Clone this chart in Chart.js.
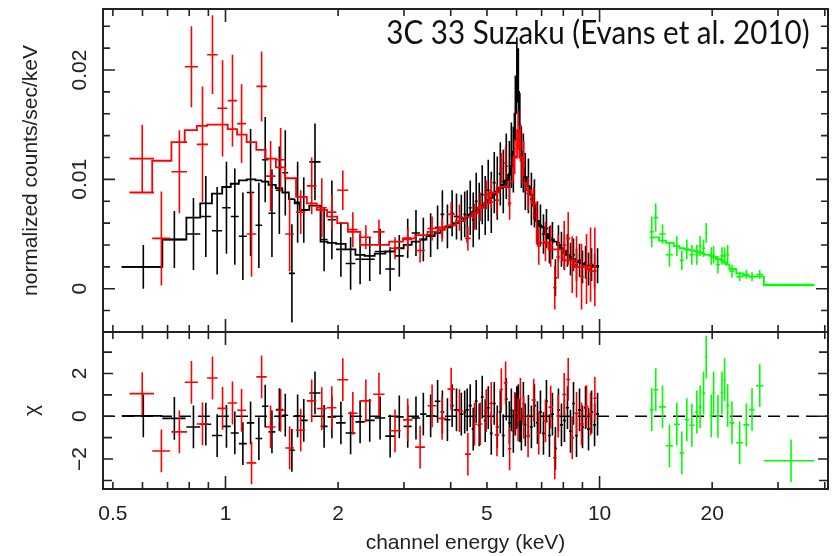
<!DOCTYPE html>
<html>
<head>
<meta charset="utf-8">
<script src="https://cdn.jsdelivr.net/npm/chart.js@4.4.1/dist/chart.umd.min.js"></script>
<style>
  html, body { margin: 0; padding: 0; background: #fff; }
  #wrap { position: relative; width: 832px; height: 556px; overflow: hidden; }
  #topCv { position: absolute; left: 0; top: 0; }
  #botCv { position: absolute; left: 0; top: 324px; }
  #title { position: absolute; right: 22px; top: 14px; font-family: Lato, "Open Sans", sans-serif;
           font-size: 32px; line-height: 36px; color: #111; white-space: nowrap;
           transform: scaleX(0.925); transform-origin: right center; }
</style>
</head>
<body>
<div id="wrap">
  <canvas id="topCv" width="832" height="334"></canvas>
  <canvas id="botCv" width="832" height="232"></canvas>
  <div id="title">3C 33 Suzaku (Evans et al. 2010)</div>
</div>
<script>
/* Suzaku spectrum of 3C 33: XIS-FI (black), XIS-BI (red), HXD-PIN (green) */

var xMin = 0.4705, xMax = 40.8;
var yTopMin = -0.00396, yTopMax = 0.02558;
var chiMin = -3.40, chiMax = 3.94;

var xMajor = [1, 10];
var xMinor = [0.5, 0.6, 0.7, 0.8, 0.9, 2, 3, 4, 5, 6, 7, 8, 9, 20, 30, 40];
var xLabelVals = [0.5, 1, 2, 5, 10, 20];
var xLabelText = ['0.5', '1', '2', '5', '10', '20'];

var yTopMajor = [0, 0.01, 0.02];
var yTopMinor = [-0.002, 0.002, 0.004, 0.006, 0.008, 0.012, 0.014, 0.016, 0.018, 0.022, 0.024];
var yTopText  = ['0', '0.01', '0.02'];

var chiMajor = [-2, 0, 2];
var chiMinor = [-3, -1, 1, 3];
var chiText  = ['\u22122', '0', '2'];

/* XIS-FI (black) */
var fiE = [0.603,0.730,0.821,0.886,0.950,1.006,1.059,1.113,1.167,1.228,1.277,1.331,1.393,1.445,1.505,1.559,1.619,1.735,1.835,1.925,
  2.035,2.160,2.290,2.430,2.590,2.755,2.915,3.070,3.230,3.380,3.535,3.690,3.800,3.920,4.035,4.145,4.270,4.360,
  4.428,4.511,4.595,4.680,4.768,4.857,4.947,5.040,5.135,5.230,5.328,5.428,5.529,5.632,5.739,5.810,5.882,5.955,6.010,6.066,
  6.122,6.180,6.256,6.331,6.454,6.574,6.697,6.823,6.950,7.080,7.212,7.345,7.482,7.621,7.764,7.909,8.057,8.207,8.361,8.517,
  8.677,8.839,9.004,9.172,9.343,9.520,9.697,9.877];
var fiHw = [0.075,0.052,0.035,0.030,0.030,0.026,0.026,0.027,0.027,0.025,0.025,0.028,0.030,0.026,0.028,0.028,0.040,0.060,0.040,0.050,
  0.060,0.065,0.065,0.075,0.085,0.080,0.080,0.075,0.085,0.065,0.090,0.065,0.045,0.075,0.040,0.070,0.055,0.035,
  0.041,0.042,0.042,0.043,0.044,0.044,0.045,0.046,0.047,0.048,0.049,0.050,0.050,0.051,0.045,0.036,0.036,0.032,0.028,0.028,
  0.028,0.033,0.038,0.045,0.060,0.061,0.062,0.063,0.064,0.065,0.066,0.067,0.068,0.070,0.071,0.073,0.074,0.076,0.077,0.079,
  0.080,0.082,0.083,0.085,0.087,0.088,0.089,0.090];
var fiCts = [0.0020,0.0045,0.0050,0.0066,0.0053,0.0074,0.0066,0.0048,0.0088,0.0058,0.0118,0.0069,0.0090,0.0106,0.0014,0.0079,0.0072,0.0116,0.0045,0.0063,
  0.0036,0.0023,0.0027,0.0027,0.0034,0.0018,0.0030,0.0046,0.0051,0.0045,0.0049,0.0056,0.0068,0.0057,0.0069,0.0066,0.0065,0.0068,
  0.0066,0.0074,0.0063,0.0080,0.0071,0.0086,0.0076,0.0090,0.0079,0.0097,0.0092,0.0105,0.0098,0.0112,0.0105,0.0122,0.0118,0.0165,0.0200,0.0190,
  0.0150,0.0120,0.0115,0.0098,0.0094,0.0082,0.0078,0.0060,0.0058,0.0050,0.0055,0.0040,0.0044,0.0010,0.0042,0.0036,0.0033,0.0035,0.0027,0.0031,
  0.0022,0.0026,0.0020,0.0024,0.0018,0.0022,0.0016,0.0021];
var fiErr = [0.0020,0.0026,0.0033,0.0037,0.0040,0.0042,0.0044,0.0040,0.0058,0.0039,0.0039,0.0040,0.0040,0.0039,0.0045,0.0037,0.0030,0.0035,0.0029,0.0036,
  0.0025,0.0024,0.0023,0.0020,0.0021,0.0020,0.0019,0.0018,0.0021,0.0020,0.0020,0.0020,0.0022,0.0020,0.0021,0.0021,0.0021,0.0021,
  0.0024,0.0025,0.0025,0.0026,0.0026,0.0027,0.0027,0.0028,0.0028,0.0028,0.0029,0.0029,0.0029,0.0030,0.0030,0.0030,0.0030,0.0030,0.0030,0.0030,
  0.0029,0.0028,0.0027,0.0026,0.0025,0.0024,0.0022,0.0020,0.0019,0.0018,0.0018,0.0017,0.0017,0.0017,0.0016,0.0016,0.0016,0.0015,0.0015,0.0015,
  0.0015,0.0015,0.0015,0.0015,0.0015,0.0015,0.0016,0.0016];
var fiMod = [0.0020,0.0045,0.0065,0.0078,0.0087,0.0093,0.0096,0.0099,0.0100,0.0099,0.0098,0.0095,0.0092,0.0088,0.0082,0.0078,0.0072,0.0076,0.0043,0.0042,
  0.0041,0.0036,0.0031,0.0030,0.0032,0.0034,0.0037,0.0040,0.0043,0.0045,0.0048,0.0051,0.0054,0.0056,0.0058,0.0060,0.0062,0.0064,
  0.0066,0.0068,0.0070,0.0072,0.0074,0.0076,0.0078,0.0081,0.0083,0.0086,0.0089,0.0092,0.0095,0.0099,0.0104,0.0112,0.0125,0.0160,0.0185,0.0180,
  0.0150,0.0125,0.0110,0.0102,0.0094,0.0086,0.0076,0.0062,0.0057,0.0056,0.0050,0.0046,0.0045,0.0043,0.0040,0.0037,0.0034,0.0031,0.0029,0.0027,
  0.0025,0.0024,0.0023,0.0022,0.0021,0.0021,0.0020,0.0020];
var fiChi = [0.02,-0.10,-0.50,-0.37,-0.90,-0.47,-0.78,-1.28,-0.31,-1.04,0.47,-0.73,0.31,0.05,-1.59,0.02,-0.19,1.09,-0.47,-0.03,
  -0.31,-0.78,-0.26,-0.19,-0.08,-0.93,-0.03,-0.47,-0.08,0.10,0.02,0.70,0.20,-0.16,0.50,0.30,0.10,0.20,
  0.3,0.5,-0.6,0.7,-0.4,0.9,-0.2,0.4,-0.8,0.6,-0.5,0.2,-0.9,0.8,-0.3,0.3,-0.7,0.1,0.4,0.5,
  -0.2,-0.6,0.6,-0.4,0.0,-0.5,0.5,-0.3,0.2,-0.8,0.7,-0.9,0.1,-1.5,0.3,-0.4,-0.2,0.4,-0.7,0.6,
  -0.9,0.3,-0.5,0.4,-0.6,0.2,-0.4,0.1];

/* XIS-BI (red) */
var biE = [0.599,0.674,0.753,0.811,0.868,0.923,0.982,1.044,1.104,1.174,1.249,1.320,1.404,1.484,1.589,1.700,1.809,1.924,2.059,2.190,2.373,2.572,2.839,
  3.070,3.313,3.567,3.794,4.011,4.222,4.446,4.631,4.797,4.977,5.135,5.318,5.462,5.609,5.749,5.930,6.056,6.143,6.270,6.440,6.668,6.878,
  7.167,7.403,7.589,7.750,8.043,8.245,8.450,8.678,8.950,9.228,9.460,9.714];
var biHw = [0.045,0.037,0.036,0.033,0.030,0.030,0.030,0.030,0.030,0.035,0.040,0.040,0.040,0.040,0.045,0.050,0.055,0.055,0.070,0.065,0.080,0.090,0.100,
  0.090,0.100,0.100,0.090,0.090,0.090,0.080,0.070,0.070,0.070,0.070,0.070,0.060,0.060,0.060,0.050,0.040,0.040,0.060,0.080,0.090,0.090,
  0.100,0.100,0.080,0.090,0.100,0.100,0.100,0.120,0.120,0.120,0.100,0.100];
var biCts = [0.0119,0.0046,0.0107,0.0203,0.0132,0.0214,0.0165,0.0172,0.0151,0.0050,0.0185,0.0103,0.0118,0.0050,0.0070,0.0094,0.0074,0.0070,0.0090,0.0054,0.0047,0.0052,0.0037,
  0.0045,0.0035,0.0055,0.0054,0.0068,0.0065,0.0046,0.0066,0.0075,0.0086,0.0087,0.0081,0.0110,0.0115,0.0078,0.0121,0.0145,0.0133,0.0119,0.0087,0.0078,0.0039,
  0.0043,0.0039,0.0001,0.0029,0.0040,0.0046,0.0022,0.0020,0.0011,0.0018,0.0022,0.0020];
var biErr = [0.0031,0.0043,0.0038,0.0037,0.0053,0.0036,0.0044,0.0042,0.0036,0.0039,0.0032,0.0032,0.0029,0.0034,0.0020,0.0026,0.0027,0.0016,0.0018,0.0016,0.0011,0.0011,0.0010,
  0.0010,0.0011,0.0011,0.0011,0.0011,0.0012,0.0011,0.0012,0.0013,0.0013,0.0013,0.0014,0.0014,0.0015,0.0015,0.0016,0.0018,0.0017,0.0016,0.0015,0.0015,0.0017,
  0.0018,0.0019,0.0020,0.0020,0.0022,0.0024,0.0026,0.0028,0.0030,0.0032,0.0034,0.0036];
var biMod = [0.0088,0.0117,0.0134,0.0145,0.0149,0.0150,0.0150,0.0146,0.0141,0.0134,0.0127,0.0119,0.0111,0.0101,0.0084,0.0078,0.0072,0.0066,0.0060,0.0052,0.0040,0.0040,0.0043,
  0.0046,0.0049,0.0052,0.0056,0.0058,0.0062,0.0066,0.0069,0.0074,0.0078,0.0088,0.0088,0.0093,0.0093,0.0098,0.0120,0.0145,0.0120,0.0097,0.0090,0.0078,0.0042,
  0.0042,0.0036,0.0036,0.0036,0.0026,0.0026,0.0026,0.0020,0.0020,0.0020,0.0016,0.0016];
var biChi = [1.06,-1.62,-0.73,1.59,-0.36,1.79,0.37,0.62,0.28,-2.18,1.84,-0.50,0.28,-1.48,-0.65,0.72,0.36,0.40,1.71,0.14,0.72,1.03,-0.68,
  -0.17,-1.44,0.49,-0.10,1.27,0.26,-1.77,-0.37,-0.36,0.26,0.60,-0.87,1.25,1.56,-1.52,0.14,-0.17,0.80,-0.05,-0.92,0.76,-0.79,
  -0.22,0.43,-1.94,0.01,1.02,1.72,-1.00,0.14,-0.36,0.45,0.10,0.84];

/* HXD-PIN (green) */
var pinE   = [13.79,14.13,14.73,15.38,16.09,16.59,17.11,17.65,18.20,18.57,18.97,19.28,19.89,20.18,20.72,21.24,21.59,22.00,22.59,23.69,24.68,25.56,26.80,32.50];
var pinHw  = [0.17,0.20,0.30,0.33,0.30,0.22,0.25,0.27,0.20,0.17,0.18,0.15,0.20,0.15,0.25,0.20,0.17,0.22,0.35,0.50,0.45,0.45,0.60,5.00];
var pinCts = [0.0052,0.0065,0.0050,0.0031,0.0039,0.0026,0.0036,0.0031,0.0031,0.0039,0.0037,0.0051,0.0030,0.0031,0.0022,0.0030,0.0030,0.0031,0.0016,0.0011,0.0013,0.0011,0.0013,0.00037];
var pinErr = [0.0014,0.0013,0.0009,0.0011,0.0009,0.0009,0.0009,0.0009,0.0009,0.0009,0.0008,0.0009,0.0008,0.0008,0.0008,0.0008,0.0008,0.0009,0.0006,0.0004,0.0004,0.0004,0.0004,0.0001];
var pinMod = [0.0047,0.0047,0.0044,0.0042,0.0039,0.0037,0.0036,0.0035,0.0034,0.0033,0.0032,0.0031,0.0030,0.0029,0.0027,0.0026,0.0024,0.0022,0.0018,0.0014,0.0012,0.0011,0.0011,0.0003];
var pinChi = [0.31,1.24,0.44,-1.38,-0.37,-1.71,-0.16,-0.42,0.20,0.44,1.09,2.77,0.02,1.09,0.00,1.09,1.71,0.50,-0.31,-1.24,-0.40,0.31,1.43,-2.08];

var BLACK = '#000000', RED = '#ff0000', GREEN = '#00ff00', INK = '#222222';
var FONT = '"Liberation Sans", Arial, sans-serif';

/* build error-bar crosses as null-separated line segments */
function crossData(E, hw, v, err) {
  var d = [];
  for (var i = 0; i < E.length; i++) {
    var e = (typeof err === 'number') ? err : err[i];
    d.push({ x: E[i] - hw[i], y: v[i] }, { x: E[i] + hw[i], y: v[i] }, { x: E[i], y: null });
    d.push({ x: E[i], y: v[i] - e }, { x: E[i], y: v[i] + e }, { x: E[i], y: null });
  }
  return d;
}

/* histogram model: flat over each bin */
function stepData(E, hw, m) {
  var d = [];
  for (var i = 0; i < E.length; i++) {
    d.push({ x: E[i] - hw[i], y: m[i] }, { x: E[i] + hw[i], y: m[i] });
  }
  return d;
}

function lineSet(data, color, width, order, extra) {
  var s = { data: data, borderColor: color, borderWidth: width, pointRadius: 0, pointHoverRadius: 0,
            fill: false, spanGaps: false, tension: 0, order: order };
  if (extra) for (var k in extra) s[k] = extra[k];
  return s;
}

/* frame with inward ticks on all four sides, plus rotated y labels and x labels */
function framePlugin(cfg) {
  return {
    id: 'frame' + cfg.name,
    afterDraw: function(chart) {
      var ctx = chart.ctx, a = chart.chartArea;
      var xs = chart.scales.x, ys = chart.scales.y;
      ctx.save();
      ctx.strokeStyle = INK;
      ctx.lineWidth = 2;
      ctx.strokeRect(a.left, a.top, a.right - a.left, a.bottom - a.top);

      ctx.lineWidth = 1.6;
      ctx.beginPath();
      function xt(v, len) {
        var px = xs.getPixelForValue(v);
        ctx.moveTo(px, a.top); ctx.lineTo(px, a.top + len);
        ctx.moveTo(px, a.bottom); ctx.lineTo(px, a.bottom - len);
      }
      function yt(v, len) {
        var py = ys.getPixelForValue(v);
        ctx.moveTo(a.left, py); ctx.lineTo(a.left + len, py);
        ctx.moveTo(a.right, py); ctx.lineTo(a.right - len, py);
      }
      xMajor.forEach(function(v) { xt(v, 13); });
      xMinor.forEach(function(v) { xt(v, 7); });
      cfg.yMajor.forEach(function(v) { yt(v, cfg.yMajLen); });
      cfg.yMinor.forEach(function(v) { yt(v, cfg.yMinLen); });
      ctx.stroke();

      ctx.fillStyle = INK;
      ctx.font = '21px ' + FONT;
      ctx.textAlign = 'center';
      ctx.textBaseline = 'middle';
      cfg.yMajor.forEach(function(v, i) {
        ctx.save();
        ctx.translate(80, ys.getPixelForValue(v));
        ctx.rotate(-Math.PI / 2);
        ctx.fillText(cfg.yText[i], 0, 0);
        ctx.restore();
      });
      if (cfg.xLabels) {
        xLabelVals.forEach(function(v, i) {
          ctx.fillText(xLabelText[i], xs.getPixelForValue(v), a.bottom + 25);
        });
      }
      ctx.restore();
    }
  };
}

function baseOptions(yMin, yMax, yTitle, titlePad, xTitle, padding, xHeight) {
  return {
    responsive: false,
    animation: false,
    events: [],
    layout: { padding: padding },
    plugins: { legend: { display: false }, tooltip: { enabled: false } },
    scales: {
      x: {
        type: 'logarithmic', min: xMin, max: xMax,
        display: xTitle ? true : false,
        grid: { display: false }, border: { display: false },
        ticks: { display: false },
        title: { display: !!xTitle, text: xTitle || '', color: INK, padding: { top: 0, bottom: 0 },
                 font: { family: FONT, size: 21 } },
        afterFit: function(s) { s.height = xHeight; }
      },
      y: {
        type: 'linear', min: yMin, max: yMax,
        grid: { display: false }, border: { display: false },
        ticks: { display: false },
        title: { display: true, text: yTitle, color: INK, padding: { top: titlePad, bottom: 0 },
                 font: { family: FONT, size: 21 } },
        afterFit: function(s) { s.width = 103; }
      }
    }
  };
}

/* ---- top panel: counts spectrum ---- */
new Chart(document.getElementById('topCv'), {
  type: 'line',
  data: {
    datasets: [
      lineSet(crossData(pinE, pinHw, pinCts, pinErr), GREEN, 1.6, 0),
      lineSet(stepData(pinE, pinHw, pinMod), GREEN, 1.8, 0, { stepped: 'before' }),
      lineSet(crossData(biE, biHw, biCts, biErr), RED, 1.6, 1),
      lineSet(stepData(biE, biHw, biMod), RED, 1.8, 1, { stepped: 'before' }),
      lineSet(crossData(fiE, fiHw, fiCts, fiErr), BLACK, 1.6, 2),
      lineSet(stepData(fiE, fiHw, fiMod), BLACK, 1.8, 2, { stepped: 'before' })
    ]
  },
  options: baseOptions(yTopMin, yTopMax, 'normalized counts/sec/keV', 19, null,
                       { top: 9, right: 4, bottom: 2, left: 0 }, 0),
  plugins: [framePlugin({ name: 'Top', yMajor: yTopMajor, yMinor: yTopMinor, yText: yTopText,
                          yMajLen: 12, yMinLen: 7, xLabels: false })]
});

/* ---- bottom panel: residuals in sigma ---- */
var zeroLine = [{ x: xMin, y: 0 }, { x: xMax, y: 0 }];

new Chart(document.getElementById('botCv'), {
  type: 'line',
  data: {
    datasets: [
      lineSet(zeroLine, BLACK, 1.5, 3, { borderDash: [12, 7] }),
      lineSet(crossData(pinE, pinHw, pinChi, 1), GREEN, 1.6, 0),
      lineSet(crossData(biE, biHw, biChi, 1), RED, 1.6, 1),
      lineSet(crossData(fiE, fiHw, fiChi, 1), BLACK, 1.6, 2)
    ]
  },
  options: baseOptions(chiMin, chiMax, '\u03c7', 20, 'channel energy (keV)',
                       { top: 8, right: 4, bottom: 0, left: 0 }, 67),
  plugins: [framePlugin({ name: 'Bot', yMajor: chiMajor, yMinor: chiMinor, yText: chiText,
                          yMajLen: 10, yMinLen: 9, xLabels: true })]
});
</script>
</body>
</html>
